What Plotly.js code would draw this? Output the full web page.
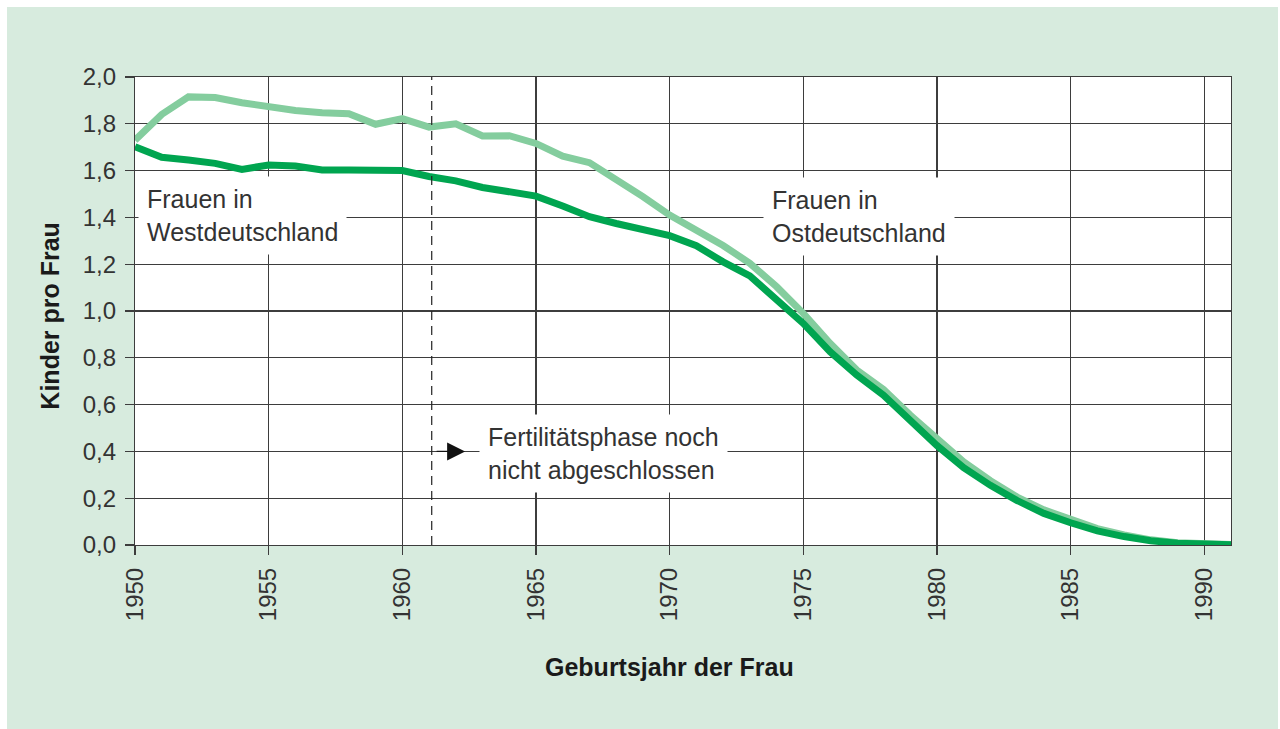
<!DOCTYPE html>
<html>
<head>
<meta charset="utf-8">
<script src="https://cdn.plot.ly/plotly-3.0.1.min.js"></script>
<style>
  html, body { margin: 0; padding: 0; background: #ffffff; }
  #chart { position: absolute; left: 7px; top: 7px; width: 1271px; height: 722px; }
</style>
</head>
<body>
<div id="chart"></div>
<script>
// Geburtsjahr der Frau
const years = [1950,1951,1952,1953,1954,1955,1956,1957,1958,1959,
               1960,1961,1962,1963,1964,1965,1966,1967,1968,1969,
               1970,1971,1972,1973,1974,1975,1976,1977,1978,1979,
               1980,1981,1982,1983,1984,1985,1986,1987,1988,1989,
               1990,1991];

// Frauen in Ostdeutschland (Kinder pro Frau)
const ost = [1.73,1.84,1.915,1.912,1.89,1.873,1.857,1.847,1.843,1.798,
             1.822,1.786,1.80,1.748,1.749,1.716,1.662,1.634,1.563,1.489,
             1.41,1.346,1.28,1.204,1.104,0.99,0.862,0.748,0.665,0.555,
             0.45,0.355,0.275,0.205,0.15,0.107,0.07,0.043,0.022,0.01,
             0.005,0.002];

// Frauen in Westdeutschland (Kinder pro Frau)
const west = [1.702,1.657,1.645,1.631,1.605,1.624,1.62,1.603,1.603,1.60,
              1.60,1.575,1.556,1.528,1.508,1.491,1.449,1.403,1.374,1.349,
              1.322,1.279,1.21,1.15,1.047,0.947,0.826,0.726,0.64,0.53,
              0.425,0.33,0.255,0.19,0.135,0.095,0.06,0.036,0.018,0.008,
              0.004,0.001];

const xTickVals = [1950,1955,1960,1965,1970,1975,1980,1985,1990];
const xTickText = ["1950","1955","1960","1965","1970","1975","1980","1985","1990"];
const yTickVals = [0,0.2,0.4,0.6,0.8,1.0,1.2,1.4,1.6,1.8,2.0];
const yTickText = ["0,0","0,2","0,4","0,6","0,8","1,0","1,2","1,4","1,6","1,8","2,0"];

const fertilityEnd = 1961.1;

const FONT = "Liberation Sans, Arial, Helvetica, sans-serif";
const TXT = "#333333";
const GRID = "#3d3d3d";

const traces = [
  { x: years, y: ost, type: "scatter", mode: "lines", name: "Ostdeutschland",
    line: { color: "#84cd9e", width: 7 }, hoverinfo: "skip" },
  { x: years, y: west, type: "scatter", mode: "lines", name: "Westdeutschland",
    line: { color: "#00a550", width: 7 }, hoverinfo: "skip" }
];

const layout = {
  width: 1271, height: 722,
  paper_bgcolor: "#d7ebde",
  plot_bgcolor: "#ffffff",
  showlegend: false,
  margin: { l: 128, r: 47, t: 70, b: 184 },
  font: { family: FONT, color: TXT, size: 24 },
  xaxis: {
    range: [1950, 1991],
    tickvals: xTickVals, ticktext: xTickText,
    tickangle: -90,
    ticks: "outside", ticklen: 9, tickcolor: GRID, tickwidth: 1.2,
    showgrid: true, gridcolor: GRID, gridwidth: 1.2,
    showline: true, linecolor: GRID, linewidth: 1.2, mirror: true,
    zeroline: false,
    tickfont: { family: FONT, size: 24, color: TXT },
    ticklabelstandoff: 3,
    fixedrange: true
  },
  yaxis: {
    range: [0, 2.0],
    tickvals: yTickVals, ticktext: yTickText,
    ticks: "outside", ticklen: 9, tickcolor: GRID, tickwidth: 1.2,
    showgrid: true, gridcolor: GRID, gridwidth: 1.2,
    showline: true, linecolor: GRID, linewidth: 1.2, mirror: true,
    zeroline: false,
    tickfont: { family: FONT, size: 24, color: TXT },
    ticklabelstandoff: 4,
    fixedrange: true
  },
  shapes: [
    { type: "line", xref: "x", yref: "y", x0: fertilityEnd, x1: fertilityEnd, y0: 0, y1: 2.0,
      line: { color: "#222222", width: 1.2, dash: "9px,6px" }, layer: "above" }
  ],
  annotations: [
    { text: "Frauen in<br>Westdeutschland", xref: "x", yref: "y", x: 1950.1, y: 1.41,
      xanchor: "left", yanchor: "middle", align: "left", showarrow: false,
      bgcolor: "#ffffff", borderpad: 8, font: { family: FONT, size: 25, color: TXT } },
    { text: "Frauen in<br>Ostdeutschland", xref: "x", yref: "y", x: 1973.5, y: 1.405,
      xanchor: "left", yanchor: "middle", align: "left", showarrow: false,
      bgcolor: "#ffffff", borderpad: 8, font: { family: FONT, size: 25, color: TXT } },
    { text: "Fertilitätsphase noch<br>nicht abgeschlossen", xref: "x", yref: "y", x: 1962.85, y: 0.389,
      xanchor: "left", yanchor: "middle", align: "left", showarrow: false,
      bgcolor: "#ffffff", borderpad: 8, font: { family: FONT, size: 25, color: TXT } },
    { text: "", xref: "x", yref: "y", x: 1962.35, y: 0.4, axref: "pixel", ayref: "pixel",
      ax: -30, ay: 0, showarrow: true, arrowhead: 2, arrowsize: 3, arrowwidth: 1.2,
      arrowcolor: "#111111" },
    { text: "<b>Kinder pro Frau</b>", xref: "paper", yref: "paper", x: -0.0776, y: 0.49,
      xanchor: "center", yanchor: "middle", textangle: -90, showarrow: false,
      font: { family: FONT, size: 25, color: "#1a1a1a" } },
    { text: "<b>Geburtsjahr der Frau</b>", xref: "paper", yref: "paper", x: 0.488, y: -0.2607,
      xanchor: "center", yanchor: "middle", showarrow: false,
      font: { family: FONT, size: 25, color: "#1a1a1a" } }
  ]
};

Plotly.newPlot("chart", traces, layout, { staticPlot: true, displayModeBar: false });
</script>
</body>
</html>
